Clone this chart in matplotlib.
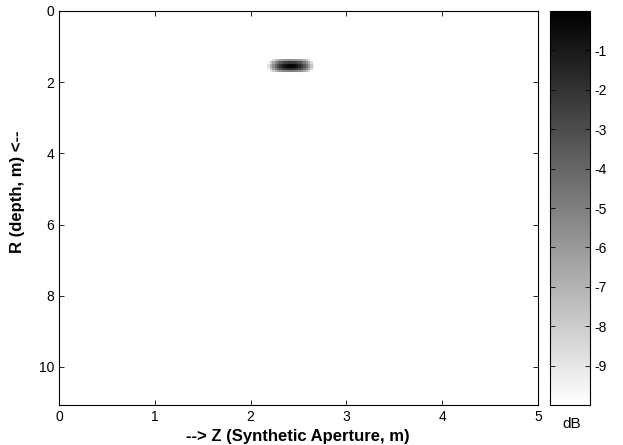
import numpy as np
import matplotlib
matplotlib.use("Agg")
import matplotlib.pyplot as plt

# ---- data ----
z_range = [0.0, 5.0]          # synthetic aperture (m)
r_range = [0.0, 11.07]        # depth (m)
target_z = 2.42               # point target position (m)
target_r = 1.52               # point target depth (m)
half_width_z = 0.25           # -10 dB half width along aperture (m)
half_width_r = 0.21           # -10 dB half width along depth at centre (m)
db_range = [-10, 0]
x_ticks = [0, 1, 2, 3, 4, 5]
y_ticks = [0, 2, 4, 6, 8, 10]
cb_ticks = [-9, -8, -7, -6, -5, -4, -3, -2, -1]

# ---- image (point spread function in dB) ----
nz, nr = 200, 180
z = np.linspace(z_range[0], z_range[1], nz)
r = np.linspace(r_range[0], r_range[1], nr)
Z, R = np.meshgrid(z, r)
u = (Z - target_z) / half_width_z
v = (R - target_r) / (half_width_r * (1 + 0.7 * u**2))
img = -10 * (u ** 2 + v ** 2)
img = np.clip(img, db_range[0], db_range[1])

plt.rcParams['font.family'] = ['Liberation Sans', 'DejaVu Sans']
fig = plt.figure(figsize=(6.23, 4.45), dpi=100)
ax = fig.add_axes([59/623, 1-405/445, (538-59)/623, (405-11)/445])
im = ax.imshow(img, cmap='gray_r', vmin=db_range[0], vmax=db_range[1],
               extent=[z_range[0], z_range[1], r_range[1], r_range[0]],
               aspect='auto', interpolation='nearest')
ax.set_xlim(z_range)
ax.set_ylim(r_range[1], r_range[0])
ax.set_xticks(x_ticks)
ax.set_yticks(y_ticks)
ax.tick_params(direction='in', top=True, right=True, labelsize=10, length=3.5, width=0.6, pad=3.5)
for s in ax.spines.values():
    s.set_linewidth(0.8)
ax.set_xlabel('--> Z (Synthetic Aperture, m)', fontsize=12, fontweight='bold')
ax.set_ylabel('R (depth, m) <--', fontsize=12, fontweight='bold')
ax.xaxis.set_label_coords((297.5-59)/479, -(437-405)/394)
ax.yaxis.set_label_coords((17.5-59)/479, (405-192)/394)
ax.xaxis.label.set_va('center')
ax.yaxis.label.set_va('center')

cax = fig.add_axes([550/623, 1-405/445, 40/623, (405-11)/445])
cb = fig.colorbar(im, cax=cax, ticks=cb_ticks)
cb.ax.tick_params(direction='in', labelsize=10, length=3.5, width=0.6, left=True, right=True, pad=3)
cb.outline.set_linewidth(0.8)
cb.ax.set_yticklabels([str(t) for t in cb_ticks])
fig.text(572/623, 1-424/445, 'dB', ha='center', va='center', fontsize=11)

fig.savefig('out.png', dpi=100)
